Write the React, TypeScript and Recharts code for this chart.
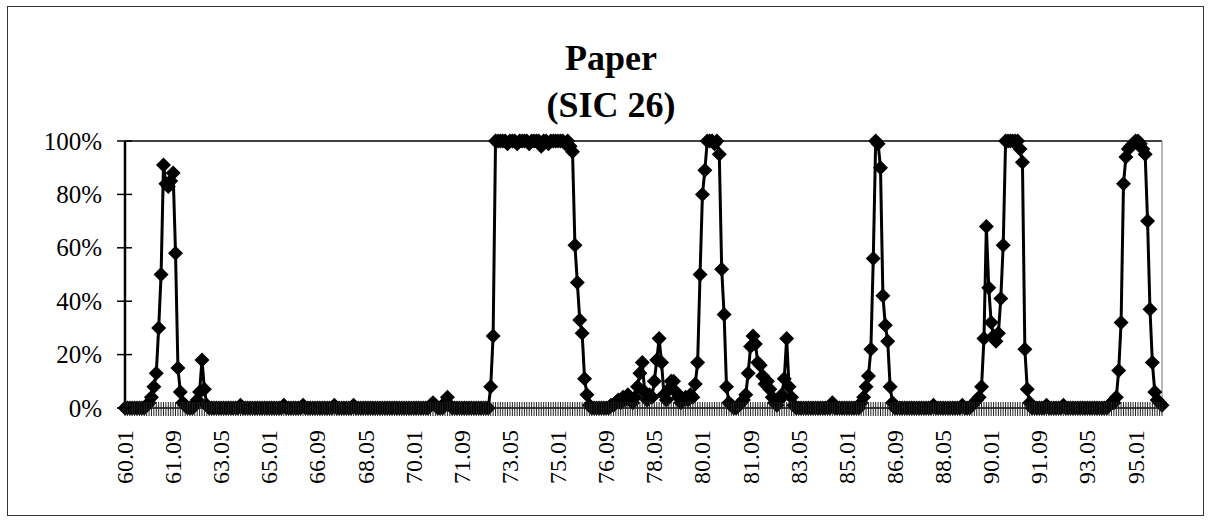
import React from 'react';
import { LineChart, Line, XAxis, YAxis, ReferenceLine } from 'recharts';

/* ── Data ───────────────────────────────────────────────────────── */
// monthly categories 60.01 … 95.12
const YEARS = [
  '60', '61', '62', '63', '64', '65', '66', '67', '68', '69', '70', '71',
  '72', '73', '74', '75', '76', '77', '78', '79', '80', '81', '82', '83',
  '84', '85', '86', '87', '88', '89', '90', '91', '92', '93', '94', '95',
];
const MONTHS = ['01', '02', '03', '04', '05', '06', '07', '08', '09', '10', '11', '12'];

// share in %, one row per year
const shares1960s = [
  0, 0, 0, 0, 0, 0, 0, 0, 0, 1, 2, 4,
  8, 13, 30, 50, 91, 84, 83, 85, 88, 58, 15, 6,
  2, 1, 0, 0, 0, 1, 3, 6, 18, 7, 1, 0,
  0, 0, 0, 0, 0, 0, 0, 0, 0, 0, 0, 0,
  1, 0, 0, 0, 0, 0, 0, 0, 0, 0, 0, 0,
  0, 0, 0, 0, 0, 0, 1, 0, 0, 0, 0, 0,
  0, 0, 1, 0, 0, 0, 0, 0, 0, 0, 0, 0,
  0, 0, 0, 1, 0, 0, 0, 0, 0, 0, 0, 1,
  0, 0, 0, 0, 0, 0, 0, 0, 0, 0, 0, 0,
  0, 0, 0, 0, 0, 0, 0, 0, 0, 0, 0, 0,
];
const shares1970s = [
  0, 0, 0, 0, 0, 0, 0, 1, 2, 1, 0, 0,
  0, 2, 4, 1, 0, 0, 0, 0, 0, 0, 0, 0,
  0, 0, 0, 0, 0, 0, 0, 0, 8, 27, 100, 100,
  100, 100, 100, 99, 100, 100, 100, 99, 100, 100, 100, 100,
  99, 100, 100, 100, 100, 98, 100, 100, 99, 100, 100, 100,
  100, 100, 100, 99, 100, 98, 96, 61, 47, 33, 28, 11,
  5, 1, 0, 0, 0, 0, 0, 0, 0, 0, 1, 1,
  2, 3, 2, 4, 3, 5, 3, 2, 4, 8, 13, 17,
  6, 3, 5, 4, 10, 18, 26, 17, 5, 3, 7, 10,
  10, 6, 4, 2, 3, 4, 3, 5, 4, 9, 17, 50,
];
const shares1980s = [
  80, 89, 100, 100, 100, 99, 100, 95, 52, 35, 8, 2,
  1, 0, 0, 1, 2, 3, 5, 13, 23, 27, 24, 17,
  16, 12, 9, 10, 7, 4, 2, 1, 3, 5, 11, 26,
  8, 4, 1, 0, 0, 0, 0, 0, 0, 0, 0, 0,
  0, 0, 0, 0, 0, 0, 2, 0, 0, 0, 0, 0,
  0, 0, 0, 0, 0, 0, 2, 4, 8, 12, 22, 56,
  100, 99, 90, 42, 31, 25, 8, 2, 0, 0, 0, 0,
  0, 0, 0, 0, 0, 0, 0, 0, 0, 0, 0, 0,
  1, 0, 0, 0, 0, 0, 0, 0, 0, 0, 0, 0,
  1, 0, 0, 0, 1, 2, 3, 4, 8, 26, 68, 45,
];
const shares1990s = [
  32, 27, 25, 28, 41, 61, 100, 100, 100, 100, 100, 100,
  97, 92, 22, 7, 2, 0, 0, 0, 0, 0, 0, 1,
  0, 0, 0, 0, 0, 0, 1, 0, 0, 0, 0, 0,
  0, 0, 0, 0, 0, 0, 0, 0, 0, 0, 0, 0,
  0, 1, 2, 2, 4, 14, 32, 84, 94, 97, 98, 99,
  100, 100, 99, 97, 95, 70, 37, 17, 6, 3, 2, 1,
];

const Y_TICKS = [0, 20, 40, 60, 80, 100];
const TITLE = ['Paper', '(SIC 26)'];

const CATEGORIES = YEARS.flatMap((y) => MONTHS.map((m) => `${y}.${m}`));
const SHARES = [...shares1960s, ...shares1970s, ...shares1980s, ...shares1990s];
const chartData = CATEGORIES.map((month, i) => ({ month, share: SHARES[i] }));

/* ── Layout ─────────────────────────────────────────────────────── */
const W = 1209;
const H = 524;
const SERIF = "'Liberation Serif', 'Times New Roman', serif";
const LABEL_EVERY = 20;

/* ── Ticks and markers ──────────────────────────────────────────── */
const XTick = (props: any) => {
  const { x, y, payload, index } = props;
  const idx = payload?.index ?? index;
  return (
    <g>
      <line x1={x} x2={x} y1={y - 6} y2={y + 8} stroke="#222" strokeWidth={1} />
      {idx % LABEL_EVERY === 0 && (
        <text
          transform={`translate(${x + 8},${y + 22}) rotate(-90)`}
          textAnchor="end"
          fontFamily={SERIF}
          fontSize={24}
          fill="#000"
        >
          {payload.value}
        </text>
      )}
    </g>
  );
};

const YTick = (props: any) => {
  const { x, y, payload } = props;
  return (
    <g>
      <line x1={x - 8} x2={x + 7} y1={y} y2={y} stroke="#000" strokeWidth={1.5} />
      <text x={x - 23} y={y + 8.5} textAnchor="end" fontFamily={SERIF} fontSize={25} fill="#000">
        {`${payload.value}%`}
      </text>
    </g>
  );
};

const renderDiamond = (props: any) => {
  const { cx, cy, index } = props;
  if (cx == null || cy == null) return <g key={`d-${index}`} />;
  const r = 7.5;
  return (
    <polygon
      key={`d-${index}`}
      points={`${cx},${cy - r} ${cx + r},${cy} ${cx},${cy + r} ${cx - r},${cy}`}
      fill="#000"
    />
  );
};

/* ── Chart ──────────────────────────────────────────────────────── */
export default function App() {
  return (
    <div style={{ position: 'absolute', left: 0, top: 0, width: W, height: H, background: '#fff' }}>
      <div
        style={{
          position: 'absolute',
          left: 7,
          top: 6,
          width: 1195,
          height: 508,
          border: '1.5px solid #333',
        }}
      />
      <LineChart
        width={W}
        height={H}
        data={chartData}
        margin={{ top: 141, right: 47, bottom: 0, left: 0 }}
        style={{ position: 'absolute', left: 0, top: 0 }}
      >
        <XAxis
          dataKey="month"
          interval={0}
          height={116}
          tickSize={0}
          tickMargin={0}
          tickLine={false}
          tick={<XTick />}
          axisLine={{ stroke: '#000', strokeWidth: 1.5 }}
        />
        <YAxis
          domain={[0, 100]}
          ticks={Y_TICKS}
          width={125}
          tickSize={0}
          tickMargin={0}
          tickLine={false}
          tick={<YTick />}
          axisLine={{ stroke: '#000', strokeWidth: 2.5 }}
        />
        <ReferenceLine y={100} stroke="#000" strokeWidth={1.5} />
        <ReferenceLine x={CATEGORIES[CATEGORIES.length - 1]} stroke="#777" strokeWidth={1} />
        <Line
          type="linear"
          dataKey="share"
          stroke="#000"
          strokeWidth={3}
          dot={renderDiamond}
          activeDot={false}
          isAnimationActive={false}
        />
      </LineChart>
      <svg width={W} height={H} style={{ position: 'absolute', left: 0, top: 0, pointerEvents: 'none' }}>
        <text x={611} y={70} textAnchor="middle" fontFamily={SERIF} fontWeight="bold" fontSize={36} fill="#000">
          {TITLE[0]}
        </text>
        <text x={611} y={117} textAnchor="middle" fontFamily={SERIF} fontWeight="bold" fontSize={36} fill="#000">
          {TITLE[1]}
        </text>
      </svg>
    </div>
  );
}
